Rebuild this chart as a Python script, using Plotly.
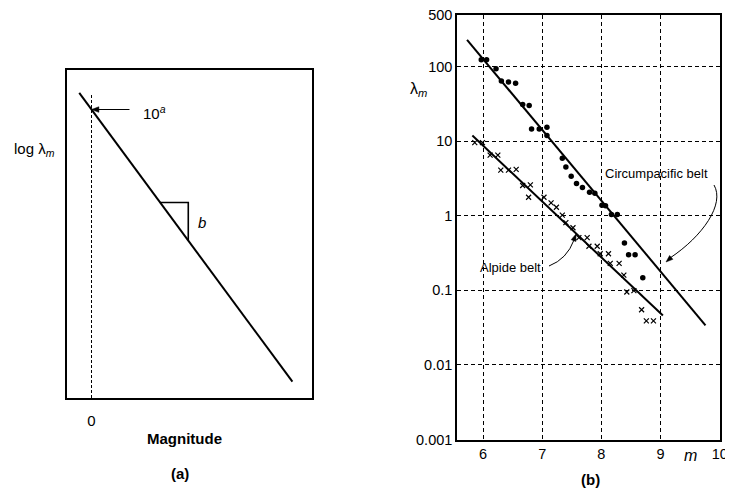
import plotly.graph_objects as go

W, H = 733, 491
OFF = 8  # page body margin: the figure is drawn 8px right/down in the window

# ---------- Panel (b) data ----------
circ_m = [5.97, 6.06, 6.22, 6.31, 6.43, 6.55, 6.67, 6.78, 6.82, 6.95, 7.08, 7.08, 7.34, 7.40,
          7.49, 7.58, 7.68, 7.80, 7.89, 8.01, 8.07, 8.17, 8.27, 8.39, 8.46, 8.57, 8.70]
circ_lam = [124, 124, 94, 64, 62, 60, 31, 30, 14.6, 14.6, 15.4, 11.9, 5.9, 4.5,
            3.4, 2.7, 2.4, 2.06, 2.0, 1.38, 1.36, 1.04, 1.04, 0.43, 0.30, 0.30, 0.147]

alp_m = [5.86, 5.99, 6.12, 6.25, 6.30, 6.43, 6.56, 6.67, 6.80, 6.77, 7.03, 7.15, 7.24, 7.34, 7.40,
         7.52, 7.62, 7.76, 7.79, 7.93, 7.98, 8.12, 8.15, 8.30, 8.38, 8.43, 8.55, 8.68, 8.76, 8.88]
alp_lam = [9.55, 9.55, 6.5, 6.5, 4.1, 4.1, 4.2, 2.55, 2.6, 1.77, 1.77, 1.49, 1.30, 1.02, 0.81,
           0.69, 0.51, 0.51, 0.39, 0.39, 0.31, 0.31, 0.23, 0.23, 0.16, 0.095, 0.099, 0.055, 0.039, 0.039]

circ_fit_m = [5.73, 9.76]
circ_fit_lam = [228, 0.034]
alp_fit_m = [5.82, 9.04]
alp_fit_lam = [11.9, 0.046]

x_ticks = [6, 7, 8, 9, 10]
y_ticks = [0.001, 0.01, 0.1, 1, 10, 100, 500]
y_tick_labels = ["0.001", "0.01", "0.1", "1", "10", "100", "500"]

# ---------- Panel (a) schematic data ----------
schem_m = [-0.5, 8.2]
schem_loglam = [9.3, 0.5]
dash_m = [0, 0]
dash_loglam = [0, 9.25]
tri_m = [2.8, 3.95]


def schem_line(m):
    s = (schem_loglam[1] - schem_loglam[0]) / (schem_m[1] - schem_m[0])
    return schem_loglam[0] + s * (m - schem_m[0])


tri_x = [tri_m[0], tri_m[1], tri_m[1]]
tri_y = [schem_line(tri_m[0]), schem_line(tri_m[0]), schem_line(tri_m[1])]
intercept = schem_line(0)

FONT = "Liberation Sans, Arial, Helvetica, sans-serif"


def px(x):
    return (x - OFF) / W


def py(y):
    return 1 - (y - OFF) / H


fig = go.Figure()

# Panel (a)
fig.add_trace(go.Scatter(x=schem_m, y=schem_loglam, mode="lines",
                         line=dict(color="black", width=2), xaxis="x2", yaxis="y2",
                         showlegend=False, hoverinfo="skip"))
fig.add_trace(go.Scatter(x=dash_m, y=dash_loglam, mode="lines",
                         line=dict(color="black", width=1, dash="3px,2px"), xaxis="x2", yaxis="y2",
                         showlegend=False, hoverinfo="skip"))
fig.add_trace(go.Scatter(x=tri_x, y=tri_y, mode="lines",
                         line=dict(color="black", width=1.6), xaxis="x2", yaxis="y2",
                         showlegend=False, hoverinfo="skip"))

# Panel (b)
fig.add_trace(go.Scatter(x=circ_fit_m, y=circ_fit_lam, mode="lines",
                         line=dict(color="black", width=2), showlegend=False))
fig.add_trace(go.Scatter(x=alp_fit_m, y=alp_fit_lam, mode="lines",
                         line=dict(color="black", width=2), showlegend=False))
fig.add_trace(go.Scatter(x=circ_m, y=circ_lam, mode="markers", name="Circumpacific belt",
                         marker=dict(symbol="circle", size=5.5, color="black"), showlegend=False))
fig.add_trace(go.Scatter(x=alp_m, y=alp_lam, mode="markers", name="Alpide belt",
                         marker=dict(symbol="x-thin", size=5, color="black",
                                     line=dict(color="black", width=1.2)), showlegend=False))

fig.update_layout(
    width=W, height=H,
    margin=dict(l=0, r=0, t=0, b=0, pad=0, autoexpand=False),
    paper_bgcolor="white", plot_bgcolor="white",
    font=dict(family=FONT, size=14, color="black"),
    showlegend=False,
    xaxis=dict(domain=[px(457), px(720)], range=[5.56, 10.005],
               tickvals=x_ticks, ticktext=[str(v) for v in x_ticks],
               ticklabeloverflow="allow", automargin=False,
               showline=True, mirror=True, linecolor="black", linewidth=1.5,
               showgrid=True, gridcolor="black", gridwidth=1, griddash="4px,3px",
               ticks="", zeroline=False, tickfont=dict(size=14.5)),
    yaxis=dict(domain=[py(439.5), py(14.5)], type="log", range=[-3, 2.699],
               tickvals=y_ticks, ticktext=y_tick_labels, automargin=False,
               ticklabeloverflow="allow",
               showline=True, mirror=True, linecolor="black", linewidth=1.5,
               showgrid=True, gridcolor="black", gridwidth=1, griddash="4px,3px",
               ticks="", zeroline=False, tickfont=dict(size=14.5)),
    xaxis2=dict(domain=[px(67), px(312)], range=[-1, 9], anchor="y2",
                tickvals=[0], ticktext=["0"], ticks="outside", ticklen=8,
                tickcolor="rgba(0,0,0,0)", automargin=False,
                showline=True, mirror=True, linecolor="black", linewidth=1.5,
                showgrid=False, zeroline=False, tickfont=dict(size=15)),
    yaxis2=dict(domain=[py(398), py(70)], range=[0, 10], anchor="x2",
                showticklabels=False, ticks="", automargin=False,
                showline=True, mirror=True, linecolor="black", linewidth=1.5,
                showgrid=False, zeroline=False),
)

ann = []


def txt(x, y, t, size=14, xanchor="center"):
    ann.append(dict(x=px(x), y=py(y), xref="paper", yref="paper", text=t, showarrow=False,
                    font=dict(family=FONT, size=size, color="black"),
                    xanchor=xanchor, yanchor="middle"))


# Panel (a) texts
txt(35, 150, "log λ<sub><i>m</i></sub>", 15)
txt(154, 112, "10<sup><i>a</i></sup>", 15)
txt(202, 222, "<i>b</i>", 15)
txt(184, 438, "<b>Magnitude</b>", 15)
txt(180, 473, "<b>(a)</b>", 15)

# Panel (b) texts
txt(418, 89, "λ<sub><i>m</i></sub>", 16)
txt(690, 455, "<i>m</i>", 16)
txt(590, 479, "<b>(b)</b>", 15)
txt(656, 173, "Circumpacific belt", 13)
txt(510, 267.5, "Alpide belt", 13)

fig.update_layout(annotations=ann)

# leader for 10^a (in panel-(a) axis units): shaft + head
head_dx, head_dy = 0.3, 0.085
shapes = [
    dict(type="line", xref="x2", yref="y2", x0=1.55, y0=intercept, x1=0.25, y1=intercept,
         line=dict(color="black", width=1.1)),
    dict(type="path", xref="x2", yref="y2",
         path="M 0,{a} L {dx},{b} L {dx},{c} Z".format(a=intercept, dx=head_dx,
                                                       b=intercept + head_dy, c=intercept - head_dy),
         fillcolor="black", line=dict(color="black", width=0.5)),
]

circ_path = "M {},{} C {},{} {},{} {},{}".format(
    px(714), py(185), px(725), py(204), px(703), py(236), px(670), py(258))
alp_path = "M {},{} Q {},{} {},{}".format(
    px(549), py(266), px(567), py(259), px(574), py(240))
circ_head = "M {},{} L {},{} L {},{} Z".format(
    px(666), py(262), px(672.9), py(259.3), px(669.6), py(255.5))
alp_head = "M {},{} L {},{} L {},{} Z".format(
    px(576), py(234), px(575.9), py(241.5), px(571.2), py(239.7))

for p in (circ_path, alp_path):
    shapes.append(dict(type="path", path=p, xref="paper", yref="paper",
                       line=dict(color="black", width=1)))
for p in (circ_head, alp_head):
    shapes.append(dict(type="path", path=p, xref="paper", yref="paper",
                       fillcolor="black", line=dict(color="black", width=0.5)))

fig.update_layout(shapes=shapes)

fig.write_html("out.html")
